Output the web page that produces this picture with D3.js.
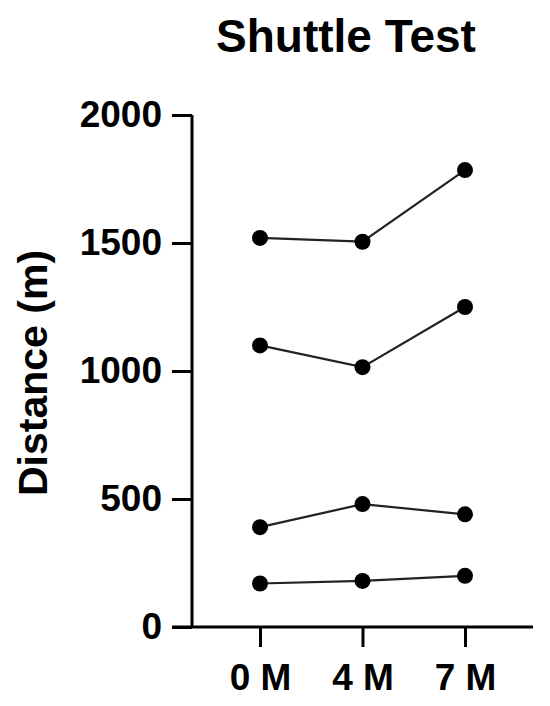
<!DOCTYPE html>
<html><head><meta charset="utf-8">
<script src="https://cdn.jsdelivr.net/npm/d3@7"></script>
<style>body{margin:0;background:#fff;} text{font-family:"Liberation Sans",Arial,sans-serif;font-weight:bold;}</style>
</head><body>
<svg id="c" width="550" height="706"></svg>
<script>
const categories = ["0 M", "4 M", "7 M"];
const subject1 = [1520, 1505, 1785];
const subject2 = [1100, 1015, 1250];
const subject3 = [390, 480, 440];
const subject4 = [170, 180, 200];
const yTicks = [0, 500, 1000, 1500, 2000];
const title = "Shuttle Test";
const yLabel = "Distance (m)";

const series = [subject1, subject2, subject3, subject4];
const svg = d3.select("#c");
const y = d3.scaleLinear().domain([0, 2000]).range([627, 115]);
const x = d3.scalePoint().domain(categories).range([260, 465]);
const axisX0 = 192, axisY0 = 627;

// y axis
const ya = svg.append("g").attr("transform", `translate(${axisX0},0)`)
  .call(d3.axisLeft(y).tickValues(yTicks).tickSize(20).tickPadding(10).tickFormat(d3.format("d")));
ya.select(".domain").attr("d", `M0,${y(2000)}V${axisY0}`);
// x axis
const xa = svg.append("g").attr("transform", `translate(0,${axisY0})`)
  .call(d3.axisBottom(x).tickSize(20).tickPadding(17));
xa.select(".domain").attr("d", `M${axisX0-20},0H533`);
[ya, xa].forEach(g => {
  g.selectAll(".domain, .tick line").attr("stroke", "#000").attr("stroke-width", 3);
  g.selectAll(".tick text").attr("fill", "#000").style("font-size", "37px").style("font-weight", "bold");
});

const line = d3.line().x((d, i) => x(categories[i])).y(d => y(d));
series.forEach(s => {
  svg.append("path").attr("d", line(s)).attr("fill", "none").attr("stroke", "#222").attr("stroke-width", 2.2);
  svg.selectAll(null).data(s).enter().append("circle")
    .attr("cx", (d, i) => x(categories[i])).attr("cy", d => y(d)).attr("r", 8).attr("fill", "#000");
});

svg.append("text").attr("x", 346).attr("y", 52).attr("text-anchor", "middle")
  .style("font-size", "46px").text(title);
svg.append("text").attr("transform", "translate(47,373) rotate(-90)").attr("text-anchor", "middle")
  .style("font-size", "41px").text(yLabel);
</script>
</body></html>
